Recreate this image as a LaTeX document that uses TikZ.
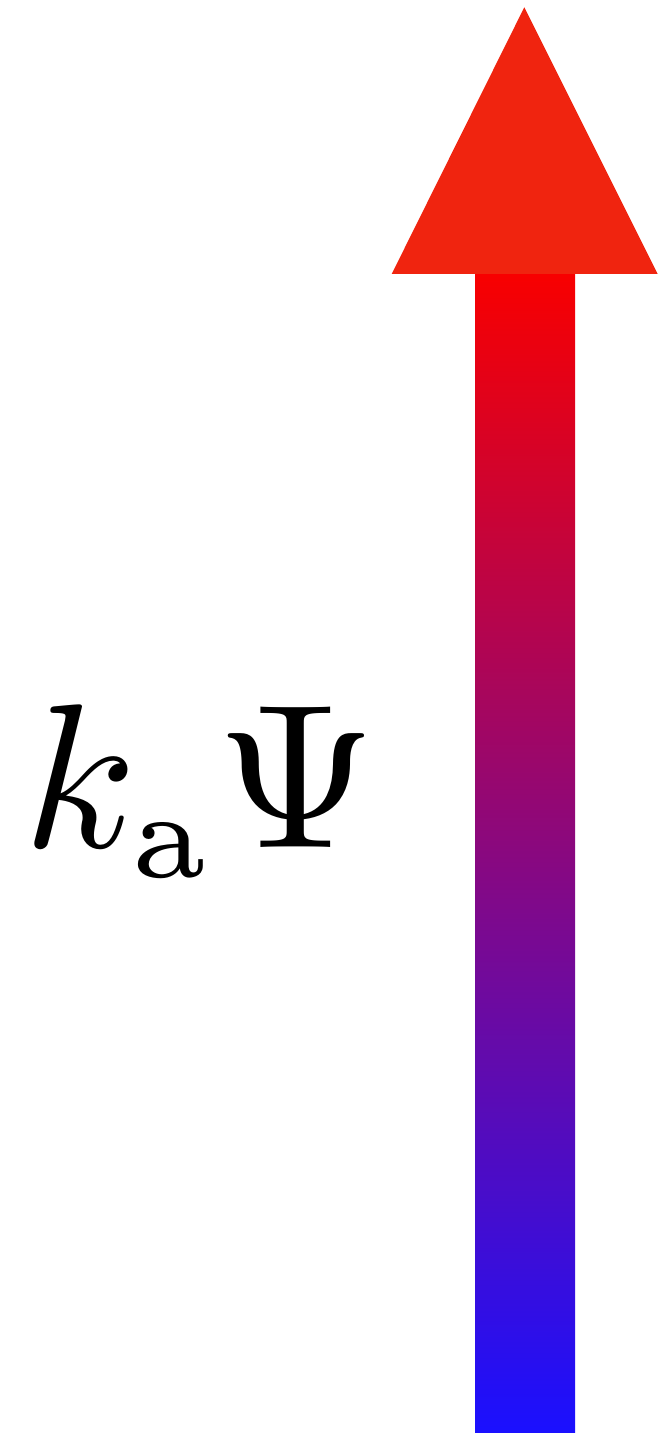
\documentclass[tikz,border=0pt]{standalone}
\usepackage{amsmath}
\usepackage{graphicx}
\DeclareMathSizes{10}{10}{6}{5}
\usetikzlibrary{calc}
\definecolor{shafttop}{RGB}{248,0,0}
\definecolor{shaftbot}{RGB}{26,16,255}
\definecolor{headred}{RGB}{240,36,15}

\begin{document}
\begin{tikzpicture}[
  shaft/.style={bottom color=shaftbot,top color=shafttop,draw=none},
  head/.style={fill=headred,draw=none},
  sym/.style={inner sep=0pt,anchor=base west,font=\fontsize{10}{12}\selectfont}
]
\useasboundingbox (0,0) rectangle (6.67,14.4);
\coordinate (tail) at (5.25,0.07);
\coordinate (neck) at (5.25,11.66);
\coordinate (tip) at (5.243,14.327);
% shaft with colour ramp
\shade[shaft] ($(tail)+(-0.5,0)$) rectangle ($(neck)+(0.5,0)$);
% arrow head
\fill[head] ($(neck)+(-1.333,0)$) -- (tip) -- ($(neck)+(1.327,0)$) -- cycle;
\node[sym] (kpsi) at (0.23,5.93) {\scalebox{5.85}{$k_{\mathrm{a}}\Psi$}};
\end{tikzpicture}
\end{document}
